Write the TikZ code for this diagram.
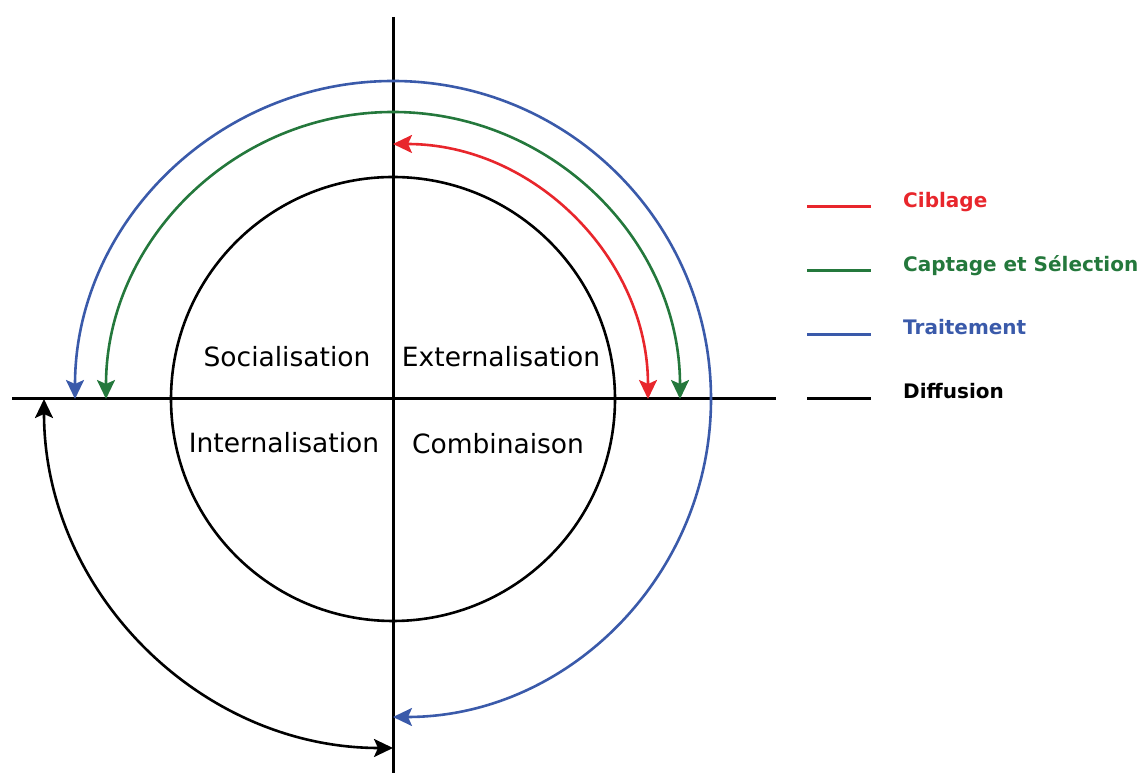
\documentclass[tikz,border=0pt]{standalone}
\usepackage{fontspec}
\setmainfont{DejaVu Sans}
\usetikzlibrary{arrows.meta}
\definecolor{cred}{HTML}{E8262C}
\definecolor{cgreen}{HTML}{24783C}
\definecolor{cblue}{HTML}{3A5AAA}
\tikzset{
  axisline/.style={line width=3pt, black},
  cyclearc/.style={line width=2.6pt, {Stealth[length=19pt,width=18pt,inset=4pt]}-{Stealth[length=19pt,width=18pt,inset=4pt]}},
  quadlabel/.style={font=\fontsize{26.5}{30}\selectfont, anchor=base, inner sep=0pt},
  legline/.style={line width=3pt},
  legtext/.style={font=\fontsize{20}{24}\selectfont\bfseries, anchor=base west, inner sep=0pt},
}
\begin{document}
\begin{tikzpicture}
\useasboundingbox (0pt,0pt) rectangle (1143pt,773pt);
% centre and axis ends
\coordinate (O) at (393pt,374pt);
\coordinate (vtop) at (393pt,756pt);
\coordinate (vbot) at (393pt,0pt);
\coordinate (hleft) at (12pt,374pt);
\coordinate (hright) at (776pt,374pt);
\draw[axisline] (vtop) -- (vbot);
\draw[axisline] (hleft) -- (hright);
% inner circle
\draw[line width=2.6pt] (O) circle[radius=222pt];
% quadrant labels
\node[quadlabel] (soc) at (287pt,406pt) {Socialisation};
\node[quadlabel] (ext) at (501pt,406pt) {Externalisation};
\node[quadlabel] (int) at (284pt,320pt) {Internalisation};
\node[quadlabel] (com) at (498pt,319pt) {Combinaison};
% arcs
\draw[cyclearc, cred] ([shift={(0:255pt)}]O) arc[start angle=0, end angle=90, radius=255pt];
\draw[cyclearc, cgreen] ([shift={(0:287pt)}]O) arc[start angle=0, end angle=180, radius=287pt];
\draw[cyclearc, cblue] ([shift={(180:318pt)}]O) arc[start angle=180, end angle=-90, radius=318pt];
\draw[cyclearc, black] ([shift={(180:349pt)}]O) arc[start angle=180, end angle=270, radius=349pt];
% legend
\coordinate (l1a) at (807pt,566pt); \coordinate (l1b) at (871pt,566pt);
\coordinate (l2a) at (807pt,502pt); \coordinate (l2b) at (871pt,502pt);
\coordinate (l3a) at (807pt,438pt); \coordinate (l3b) at (871pt,438pt);
\coordinate (l4a) at (807pt,374pt); \coordinate (l4b) at (871pt,374pt);
\draw[legline, cred] (l1a) -- (l1b);
\draw[legline, cgreen] (l2a) -- (l2b);
\draw[legline, cblue] (l3a) -- (l3b);
\draw[legline, black] (l4a) -- (l4b);
\node[legtext, text=cred] (t1) at (903pt,565pt) {Ciblage};
\node[legtext, text=cgreen] (t2) at (903pt,501pt) {Captage et Sélection};
\node[legtext, text=cblue] (t3) at (903pt,438pt) {Traitement};
\node[legtext, text=black] (t4) at (903pt,374pt) {Diffusion};
\end{tikzpicture}
\end{document}
